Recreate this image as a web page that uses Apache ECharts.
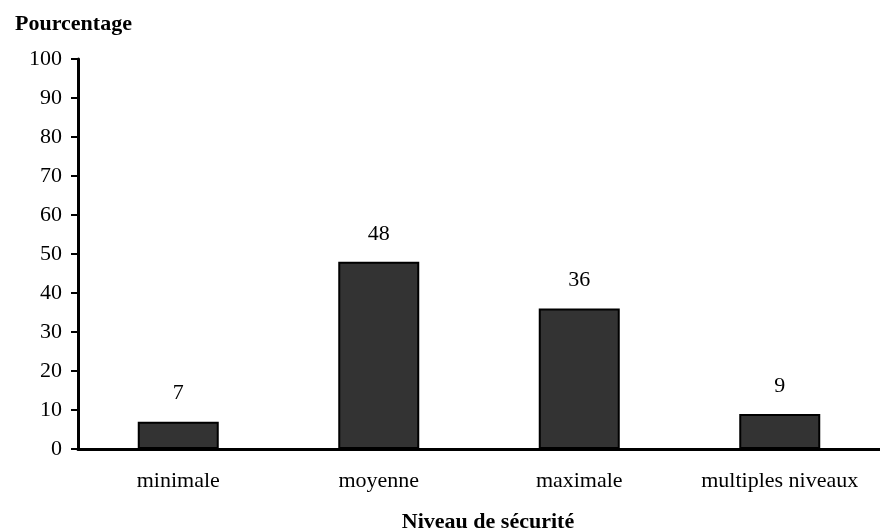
<!DOCTYPE html>
<html>
<head>
<meta charset="utf-8">
<script src="https://cdn.jsdelivr.net/npm/echarts@6/dist/echarts.min.js"></script>
<style>
  html, body { margin: 0; padding: 0; background: #fff; }
  #chart { width: 880px; height: 529px; }
</style>
</head>
<body>
<div id="chart"></div>
<script>
// Niveau de sécurité souhaité (en pourcentage)
const categories = ['minimale', 'moyenne', 'maximale', 'multiples niveaux'];
const values = [7, 48, 36, 9];
const yTicks = { min: 0, max: 100, interval: 10 };

const serif = '"Liberation Serif", "DejaVu Serif", serif';
const chart = echarts.init(document.getElementById('chart'));

chart.setOption({
  backgroundColor: '#ffffff',
  animation: false,
  title: [
    {
      text: 'Pourcentage',
      left: 10, top: 8,
      textStyle: { fontFamily: serif, fontWeight: 'bold', fontSize: 22, color: '#000' }
    },
    {
      text: 'Niveau de sécurité',
      left: 483, top: 506, textAlign: 'center',
      textStyle: { fontFamily: serif, fontWeight: 'bold', fontSize: 22, color: '#000' }
    }
  ],
  grid: { left: 78, top: 59, width: 812, height: 390, containLabel: false },
  xAxis: {
    type: 'category',
    data: categories,
    axisLine: { lineStyle: { color: '#000', width: 3 } },
    axisTick: { show: false },
    axisLabel: {
      interval: 0, hideOverlap: false,
      fontFamily: serif, fontSize: 22, color: '#000', margin: 21
    },
    splitLine: { show: false }
  },
  yAxis: {
    type: 'value',
    min: yTicks.min, max: yTicks.max, interval: yTicks.interval,
    axisLine: { show: true, lineStyle: { color: '#000', width: 3 } },
    axisTick: { show: true, length: 7, lineStyle: { color: '#000', width: 2 } },
    axisLabel: { fontFamily: serif, fontSize: 22, color: '#000', margin: 16 },
    splitLine: { show: false }
  },
  series: [{
    type: 'bar',
    data: values,
    barWidth: 81,
    itemStyle: { color: '#333333', borderColor: '#000', borderWidth: 2 },
    label: {
      show: true, position: 'top', distance: 17,
      fontFamily: serif, fontSize: 22, color: '#000'
    }
  }]
});
</script>
</body>
</html>
